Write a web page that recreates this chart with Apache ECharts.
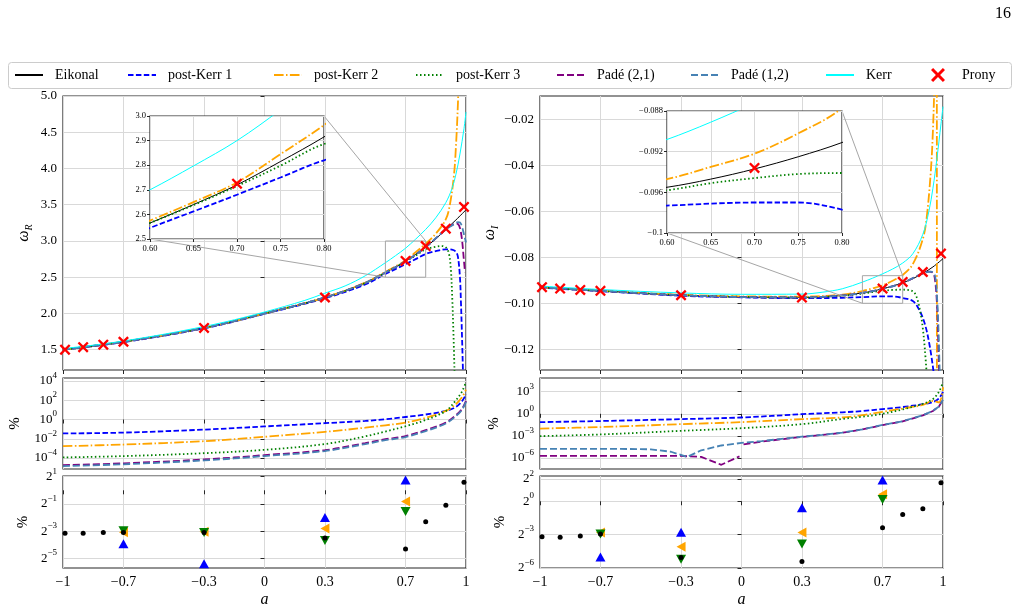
<!DOCTYPE html>
<html>
<head>
<meta charset="utf-8">
<script src="https://cdn.jsdelivr.net/npm/echarts@6/dist/echarts.min.js"></script>
<style>
  html, body { margin: 0; padding: 0; background: #fff; }
  #chart { width: 1020px; height: 612px; }
</style>
</head>
<body>
<div id="chart"></div>
<script>
// ---- data ----
// Prony fits (spin a), used in every panel
const pronyA = [-0.99, -0.9, -0.8, -0.7, -0.3, 0.3, 0.7, 0.8, 0.9, 0.99]
const pronyWR = [1.50, 1.535, 1.57, 1.61, 1.80, 2.22, 2.725, 2.93, 3.17, 3.47]
const pronyWI = [-0.0930, -0.0936, -0.0942, -0.0946, -0.0965, -0.0975, -0.0936, -0.0907, -0.0864, -0.0784]

// omega_R curves, [a, value]
const eikonalR = [[-1,1.50],[-0.9,1.535],[-0.8,1.57],[-0.7,1.61],[-0.6,1.655],[-0.5,1.70],[-0.4,1.75],[-0.3,1.80],[-0.2,1.86],[-0.1,1.93],[0,2.0],[0.1,2.07],[0.2,2.14],[0.3,2.22],[0.4,2.31],[0.5,2.42],[0.6,2.565],[0.65,2.64],[0.7,2.72],[0.75,2.815],[0.8,2.915],[0.85,3.03],[0.9,3.16],[0.95,3.29],[1.0,3.43]]
const pk1R = [[-1,1.50],[-0.7,1.605],[-0.3,1.795],[0,1.995],[0.3,2.21],[0.5,2.40],[0.6,2.545],[0.65,2.612],[0.7,2.68],[0.75,2.75],[0.8,2.82],[0.85,2.86],[0.9,2.885],[0.93,2.88],[0.95,2.85],[0.96,2.78],[0.97,2.5],[0.975,2.15],[0.98,1.7],[0.985,1.2]]
const pk2R = [[-1,1.50],[-0.7,1.61],[-0.3,1.80],[0,2.0],[0.3,2.22],[0.5,2.425],[0.6,2.575],[0.65,2.65],[0.7,2.73],[0.75,2.845],[0.8,2.963],[0.85,3.1],[0.9,3.3],[0.92,3.5],[0.94,3.9],[0.95,4.3],[0.96,4.9],[0.965,5.4]]
const pk3R = [[-1,1.50],[-0.7,1.61],[-0.3,1.80],[0,2.0],[0.3,2.22],[0.5,2.42],[0.6,2.565],[0.65,2.638],[0.7,2.715],[0.75,2.798],[0.8,2.886],[0.85,2.92],[0.88,2.93],[0.9,2.91],[0.915,2.83],[0.925,2.6],[0.932,2.2],[0.938,1.7],[0.943,1.2]]
const pade21R = [[-1,1.50],[-0.7,1.61],[-0.3,1.80],[0,2.0],[0.3,2.22],[0.5,2.42],[0.6,2.565],[0.7,2.72],[0.8,2.915],[0.9,3.16],[0.93,3.22],[0.95,3.24],[0.96,3.235],[0.97,3.18],[0.98,3.02],[0.99,2.72],[0.995,2.57]]
const pade12R = [[-1,1.50],[-0.7,1.61],[-0.3,1.80],[0,2.0],[0.3,2.22],[0.5,2.42],[0.6,2.565],[0.7,2.72],[0.8,2.915],[0.9,3.16],[0.94,3.23],[0.96,3.26],[0.97,3.255],[0.98,3.2],[0.99,3.09],[1.0,2.98]]
const kerrR = [[-1,1.515],[-0.8,1.58],[-0.6,1.665],[-0.4,1.765],[-0.2,1.88],[0,2.02],[0.2,2.18],[0.3,2.28],[0.4,2.38],[0.5,2.52],[0.6,2.70],[0.65,2.797],[0.7,2.90],[0.75,3.025],[0.8,3.16],[0.85,3.32],[0.9,3.53],[0.93,3.72],[0.95,3.92],[0.97,4.2],[0.99,4.55],[1.0,4.78]]

// omega_I curves, [a, value]
const eikonalI = [[-1,-0.0930],[-0.9,-0.0936],[-0.8,-0.0941],[-0.7,-0.0946],[-0.5,-0.0956],[-0.3,-0.0965],[-0.1,-0.0971],[0,-0.0973],[0.2,-0.0975],[0.3,-0.0975],[0.4,-0.0973],[0.5,-0.0966],[0.6,-0.0955],[0.65,-0.0947],[0.7,-0.0937],[0.75,-0.0925],[0.8,-0.0911],[0.85,-0.0893],[0.9,-0.0870],[0.95,-0.0842],[1.0,-0.0806]]
const pk1I = [[-1,-0.0932],[-0.7,-0.0947],[-0.3,-0.0967],[0,-0.0974],[0.3,-0.0978],[0.5,-0.0976],[0.6,-0.0973],[0.7,-0.0970],[0.75,-0.0970],[0.8,-0.0977],[0.85,-0.0990],[0.88,-0.1025],[0.91,-0.109],[0.935,-0.119],[0.955,-0.131]]
const pk2I = [[-1,-0.0930],[-0.7,-0.0945],[-0.3,-0.0963],[0,-0.0970],[0.3,-0.0971],[0.5,-0.0962],[0.6,-0.0947],[0.65,-0.0935],[0.7,-0.0922],[0.75,-0.0902],[0.8,-0.0877],[0.85,-0.0830],[0.9,-0.0720],[0.92,-0.062],[0.94,-0.042],[0.95,-0.025],[0.957,-0.005],[0.962,0.02],[0.968,0.2],[0.970,-0.5]]
const pk3I = [[-1,-0.0931],[-0.7,-0.0946],[-0.3,-0.0965],[0,-0.0972],[0.3,-0.0975],[0.5,-0.0967],[0.6,-0.0958],[0.65,-0.0951],[0.7,-0.0946],[0.75,-0.0942],[0.8,-0.0941],[0.85,-0.0948],[0.87,-0.0975],[0.89,-0.105],[0.9,-0.111],[0.91,-0.12],[0.92,-0.132]]
const pade21I = [[-1,-0.0930],[-0.7,-0.0946],[-0.3,-0.0965],[0,-0.0973],[0.3,-0.0975],[0.5,-0.0966],[0.6,-0.0955],[0.7,-0.0937],[0.8,-0.0911],[0.9,-0.0870],[0.93,-0.0862],[0.95,-0.0868],[0.96,-0.0895],[0.97,-0.100],[0.975,-0.112],[0.982,-0.135]]
const pade12I = [[-1,-0.0930],[-0.7,-0.0946],[-0.3,-0.0965],[0,-0.0973],[0.3,-0.0975],[0.5,-0.0966],[0.6,-0.0955],[0.7,-0.0937],[0.8,-0.0911],[0.9,-0.0870],[0.94,-0.0862],[0.96,-0.0880],[0.97,-0.097],[0.977,-0.11],[0.985,-0.135]]
const kerrI = [[-1,-0.0925],[-0.7,-0.0940],[-0.3,-0.0955],[0,-0.0961],[0.3,-0.0960],[0.4,-0.0952],[0.5,-0.0937],[0.6,-0.0908],[0.65,-0.0891],[0.7,-0.0872],[0.75,-0.0851],[0.8,-0.0825],[0.85,-0.0785],[0.9,-0.0700],[0.93,-0.0600],[0.95,-0.0500],[0.97,-0.0370],[0.99,-0.0220],[1.0,-0.0145]]

// relative errors in %, stored as log10 exponents
const errA = [-1, -0.7, -0.3, 0, 0.3, 0.5, 0.6, 0.7, 0.8, 0.9, 0.95, 0.98, 1.0]
const errR_pk1 = [-1.45, -1.36, -1.05, -0.72, -0.38, -0.15, 0.02, 0.26, 0.52, 0.89, 1.3, 1.9, 2.6]
const errR_pk2 = [-2.77, -2.6, -2.25, -1.8, -1.28, -0.85, -0.6, -0.32, 0.17, 0.89, 1.6, 2.3, 3.1]
const errR_pk3 = [-3.94, -3.8, -3.5, -3.15, -2.55, -1.75, -1.25, -0.7, -0.05, 0.89, 2.0, 2.9, 3.9]
const errR_pd21 = [-4.74, -4.55, -4.15, -3.7, -3.18, -2.45, -2.05, -1.72, -1.1, -0.31, 0.45, 1.1, 1.93]
const errR_pd12 = [-4.84, -4.65, -4.25, -3.8, -3.28, -2.55, -2.15, -1.82, -1.2, -0.41, 0.35, 1.0, 1.83]
const errI_pk1 = [-1.13, -0.98, -0.72, -0.5, -0.05, 0.2, 0.38, 0.65, 0.92, 1.3, 1.6, 2.1, 3.0]
const errI_pk2 = [-2.0, -1.8, -1.4, -1.13, -0.72, -0.5, -0.18, 0.27, 0.72, 1.2, 1.75, 1.55, 3.6]
const errI_pk3 = [-3.03, -2.8, -2.31, -1.95, -1.4, -0.7, -0.4, 0.0, 0.6, 1.35, 2.0, 3.0, 4.3]
const errI_pd21 = [[-1,-5.7],[-0.6,-5.7],[-0.3,-5.72],[-0.2,-5.85],[-0.1,-6.92],[-0.01,-5.77],[0,'-'],[0.01,-4.15],[0.1,-3.78],[0.2,-3.45],[0.3,-3.13],[0.4,-2.87],[0.5,-2.57],[0.6,-2.12],[0.7,-1.52],[0.8,-1.02],[0.9,-0.22],[0.95,0.38],[0.98,1.0],[1.0,1.95]]
const errI_pd12 = [[-1,-4.75],[-0.8,-4.75],[-0.6,-4.76],[-0.45,-4.82],[-0.35,-5.15],[-0.27,-5.85],[-0.2,-4.95],[-0.1,-4.3],[0,-3.95],[0.1,-3.7],[0.2,-3.4],[0.3,-3.1],[0.4,-2.85],[0.5,-2.55],[0.6,-2.1],[0.7,-1.5],[0.8,-1.0],[0.9,-0.2],[0.95,0.4],[0.98,1.0],[1.0,1.9]]

// errors at the fitted spins in %, stored as log2 exponents
const fitA = [-0.7, -0.3, 0.3, 0.7]
const fitR_pk1 = [-3.93, -5.4, -2.0, 0.76]
const fitR_pk2 = [-3.08, -3.05, -2.8, -0.83]
const fitR_pk3 = [-2.98, -3.1, -3.69, -1.56]
const fitR_prony = [-3.15, -3.15, -3.1, -3.1, -3.1, -3.51, -4.32, -2.32, -1.1, 0.59]
const fitI_pk1 = [-5.0, -2.79, -0.58, 1.91]
const fitI_pk2 = [-2.82, -4.09, -2.82, 0.64]
const fitI_pk3 = [-2.94, -5.21, -3.85, 0.15]
const fitI_prony = [-3.18, -3.24, -3.12, -2.94, -5.06, -5.42, -2.39, -1.18, -0.67, 1.67]

// tick positions
const xTicks = [-1, -0.7, -0.3, 0, 0.3, 0.7, 1]
const insetXTicks = [0.6, 0.65, 0.7, 0.75, 0.8]
const wrTicks = [1.5, 2, 2.5, 3, 3.5, 4, 4.5, 5]
const wiTicks = [-0.12, -0.1, -0.08, -0.06, -0.04, -0.02]
const errRTicks = [-4, -2, 0, 2, 4]
const errITicks = [-6, -3, 0, 3]
const fitRTicks = [-5, -3, -1, 1]
const fitITicks = [-6, -3, 0, 2]
const insetRTicks = [2.5, 2.6, 2.7, 2.8, 2.9, 3.0]
const insetITicks = [-0.1, -0.096, -0.092, -0.088]

// ---- styling ----
const FONT = '"Liberation Serif", "DejaVu Serif", serif'
const GRIDC = '#d9d9d9'
const SPINE = '#262626'
const STY = {
  'Eikonal': { color: '#000000', width: 1, type: 'solid' },
  'post-Kerr 1': { color: '#0000ff', width: 1.8, type: [5.5, 2.4] },
  'post-Kerr 2': { color: '#ffa500', width: 1.8, type: [9.6, 2.4, 1.5, 2.4] },
  'post-Kerr 3': { color: '#008000', width: 1.8, type: [1.5, 2.5] },
  'Padé (2,1)': { color: '#800080', width: 1.8, type: [7, 3] },
  'Padé (1,2)': { color: '#4682b4', width: 1.8, type: [7, 3] },
  'Kerr': { color: '#00ffff', width: 1, type: 'solid' }
}
const CROSS = 'path://M0,1.5L1.5,0L5,3.5L8.5,0L10,1.5L6.5,5L10,8.5L8.5,10L5,6.5L1.5,10L0,8.5L3.5,5Z'
const LEFT_TRI = 'path://M0,5L10,0L10,10Z'
const DOWN_TRI = 'path://M0,0L10,0L5,10Z'

const RICH = {
  b: { fontFamily: FONT, fontSize: 13, lineHeight: 20, color: '#000' },
  e: { fontFamily: FONT, fontSize: 9, verticalAlign: 'top', color: '#000' }
}
const NAME_RICH = {
  w: { fontFamily: FONT, fontSize: 16, fontStyle: 'italic', lineHeight: 20, color: '#000' },
  s: { fontFamily: FONT, fontSize: 10, fontStyle: 'italic', verticalAlign: 'bottom', color: '#000' }
}

const zip = (xs, ys) => xs.map((x, i) => [x, ys[i]])
const sign = v => (v < 0 ? '\u2212' : '')
const minus = v => sign(v) + Math.abs(v)
const fixed = d => v => sign(v) + Math.abs(v).toFixed(d)
const pow = base => v => '{b|' + base + '}{e|' + minus(v) + '}'

// ---- layout ----
const grids = [
  { left: 63, top: 96, width: 403, height: 274 },
  { left: 540, top: 96, width: 403, height: 274 },
  { left: 63, top: 378, width: 403, height: 91 },
  { left: 540, top: 378, width: 403, height: 91 },
  { left: 63, top: 476, width: 403, height: 92 },
  { left: 540, top: 476, width: 403, height: 92 },
  { left: 150, top: 116, width: 174, height: 123 },
  { left: 667, top: 111, width: 175, height: 122 }
].map((g, i) => Object.assign({
  show: true, borderColor: SPINE, borderWidth: 1.2,
  backgroundColor: i >= 6 ? '#ffffff' : 'transparent',
  z: i >= 6 ? 10 : 0, outerBoundsMode: 'none', containLabel: false
}, g))

function xAx(gi, extra) {
  const inset = gi >= 6
  const ticks = inset ? insetXTicks : xTicks
  return Object.assign({
    type: 'value', gridIndex: gi,
    min: inset ? 0.6 : -1, max: inset ? 0.8 : 1,
    z: inset ? 11 : 0,
    axisLine: { show: false },
    axisTick: { show: true, length: inset ? 3 : 4, customValues: ticks, lineStyle: { color: SPINE } },
    axisLabel: { show: false, customValues: ticks },
    splitLine: { show: true, lineStyle: { color: GRIDC, width: 1 } }
  }, extra)
}
function yAx(gi, min, max, ticks, fmt, extra) {
  const inset = gi >= 6
  return Object.assign({
    type: 'value', gridIndex: gi, min, max,
    z: inset ? 11 : 0,
    axisLine: { show: false },
    axisTick: { show: true, length: inset ? 3 : 4, customValues: ticks, lineStyle: { color: SPINE } },
    axisLabel: {
      customValues: ticks, formatter: fmt, margin: inset ? 4 : 6,
      fontFamily: FONT, fontSize: inset ? 8.5 : 13, color: '#000', rich: RICH
    },
    splitLine: { show: true, lineStyle: { color: GRIDC, width: 1 } },
    nameLocation: 'middle', nameRotate: 90,
    nameTextStyle: { fontFamily: FONT, fontSize: 15, color: '#000', rich: NAME_RICH }
  }, extra)
}

const bottomX = {
  axisLabel: {
    show: true, customValues: xTicks, formatter: minus, margin: 7,
    fontFamily: FONT, fontSize: 14, color: '#000'
  },
  name: 'a', nameLocation: 'middle', nameGap: 24,
  nameTextStyle: { fontFamily: FONT, fontSize: 16, fontStyle: 'italic', color: '#000' }
}
const insetX = {
  axisLabel: {
    show: true, customValues: insetXTicks, formatter: v => v.toFixed(2), margin: 5,
    fontFamily: FONT, fontSize: 8.5, color: '#000'
  }
}

const xAxes = [xAx(0), xAx(1), xAx(2), xAx(3), xAx(4, bottomX), xAx(5, bottomX), xAx(6, insetX), xAx(7, insetX)]
const yAxes = [
  yAx(0, 1.22, 5.0, wrTicks, fixed(1), { name: '{w|ω}{s|R}', nameGap: 29 }),
  yAx(1, -0.129, -0.0099, wiTicks, fixed(2), { name: '{w|ω}{s|I}', nameGap: 38 }),
  yAx(2, -5.14, 4.31, errRTicks, pow(10), { name: '%', nameGap: 40 }),
  yAx(3, -7.49, 4.86, errITicks, pow(10), { name: '%', nameGap: 38 }),
  yAx(4, -5.71, 1.05, fitRTicks, pow(2), { name: '%', nameGap: 32 }),
  yAx(5, -6, 2.27, fitITicks, pow(2), { name: '%', nameGap: 32 }),
  yAx(6, 2.5, 3.0, insetRTicks, fixed(1)),
  yAx(7, -0.1, -0.088, insetITicks, v => (v === -0.1 ? '\u22120.1' : fixed(3)(v)))
]

// ---- series ----
const series = []
function addLine(name, data, gi, extra) {
  const s = STY[name]
  series.push(Object.assign({
    type: 'line', name, data, xAxisIndex: gi, yAxisIndex: gi,
    symbol: 'none', showSymbol: false, smooth: 0.35, clip: true,
    lineStyle: { color: s.color, width: s.width, type: s.type, cap: 'butt' },
    itemStyle: { color: s.color },
    silent: true, z: gi >= 6 ? 12 : 2
  }, extra))
}
function addScatter(name, data, gi, symbol, size, color, z) {
  series.push({
    type: 'scatter', name, data, xAxisIndex: gi, yAxisIndex: gi,
    symbol, symbolSize: size, itemStyle: { color, opacity: 1 },
    silent: true, z: z
  })
}

// main panels
const curvesR = [['Eikonal', eikonalR], ['post-Kerr 1', pk1R], ['post-Kerr 2', pk2R], ['post-Kerr 3', pk3R],
  ['Padé (2,1)', pade21R], ['Padé (1,2)', pade12R], ['Kerr', kerrR]]
const curvesI = [['Eikonal', eikonalI], ['post-Kerr 1', pk1I], ['post-Kerr 2', pk2I], ['post-Kerr 3', pk3I],
  ['Padé (2,1)', pade21I], ['Padé (1,2)', pade12I], ['Kerr', kerrI]]
curvesR.forEach(([n, d]) => addLine(n, d, 0))
curvesI.forEach(([n, d]) => addLine(n, d, 1))
// insets: the Padé curves are not drawn there
curvesR.filter(([n]) => n.indexOf('Padé') < 0).forEach(([n, d]) => addLine(n, d, 6))
curvesI.filter(([n]) => n.indexOf('Padé') < 0).forEach(([n, d]) => addLine(n, d, 7))
addScatter('Prony', zip(pronyA, pronyWR), 0, CROSS, 11, '#ff0000', 4)
addScatter('Prony', zip(pronyA, pronyWI), 1, CROSS, 11, '#ff0000', 4)
const inInset = p => p[0] > 0.6 && p[0] < 0.8
addScatter('Prony', zip(pronyA, pronyWR).filter(inInset), 6, CROSS, 11, '#ff0000', 13)
addScatter('Prony', zip(pronyA, pronyWI).filter(inInset), 7, CROSS, 11, '#ff0000', 13)

// error panels
addLine('post-Kerr 1', zip(errA, errR_pk1), 2)
addLine('post-Kerr 2', zip(errA, errR_pk2), 2)
addLine('post-Kerr 3', zip(errA, errR_pk3), 2)
addLine('Padé (2,1)', zip(errA, errR_pd21), 2)
addLine('Padé (1,2)', zip(errA, errR_pd12), 2)
addLine('post-Kerr 1', zip(errA, errI_pk1), 3)
addLine('post-Kerr 2', zip(errA, errI_pk2), 3)
addLine('post-Kerr 3', zip(errA, errI_pk3), 3)
addLine('Padé (2,1)', errI_pd21, 3, { smooth: false })
addLine('Padé (1,2)', errI_pd12, 3, { smooth: false })

// errors at the fitted spins
addScatter('fit pk1 R', zip(fitA, fitR_pk1), 4, 'triangle', [10, 9], '#0000ff', 3)
addScatter('fit pk2 R', zip(fitA, fitR_pk2), 4, LEFT_TRI, [9, 10], '#ffa500', 3)
addScatter('fit pk3 R', zip(fitA, fitR_pk3), 4, DOWN_TRI, [10, 9], '#008000', 3)
addScatter('fit prony R', zip(pronyA, fitR_prony), 4, 'circle', 5, '#000000', 4)
addScatter('fit pk1 I', zip(fitA, fitI_pk1), 5, 'triangle', [10, 9], '#0000ff', 3)
addScatter('fit pk2 I', zip(fitA, fitI_pk2), 5, LEFT_TRI, [9, 10], '#ffa500', 3)
addScatter('fit pk3 I', zip(fitA, fitI_pk3), 5, DOWN_TRI, [10, 9], '#008000', 3)
addScatter('fit prony I', zip(pronyA, fitI_prony), 5, 'circle', 5, '#000000', 4)

// one legend per entry so the row spreads like the original
const legendSpots = [['Eikonal', 14], ['post-Kerr 1', 127], ['post-Kerr 2', 273], ['post-Kerr 3', 415],
  ['Padé (2,1)', 556], ['Padé (1,2)', 690], ['Kerr', 825], ['Prony', 931]]
const legends = legendSpots.map(([n, x]) => {
  const isLine = n !== 'Prony'
  return {
    data: [n], left: x, top: 68, padding: 0, orient: 'horizontal',
    itemWidth: isLine ? 28 : 14, itemHeight: 14, selectedMode: false,
    itemStyle: isLine ? { opacity: 0 } : {},
    textStyle: { fontFamily: FONT, fontSize: 14, color: '#000', padding: [0, 0, 0, isLine ? 7 : 12] }
  }
})

const chart = echarts.init(document.getElementById('chart'), null, { renderer: 'canvas' })
chart.setOption({
  animation: false,
  backgroundColor: '#ffffff',
  textStyle: { fontFamily: FONT },
  grid: grids,
  xAxis: xAxes,
  yAxis: yAxes,
  legend: legends,
  series: series
})

// zoom boxes and connectors, placed with the chart's own coordinate conversion
function zoomMarks(gMain, gIn, x0, x1, y0, y1) {
  const a = chart.convertToPixel({ gridIndex: gMain }, [x0, y0])
  const b = chart.convertToPixel({ gridIndex: gMain }, [x1, y1])
  const ia = chart.convertToPixel({ gridIndex: gIn }, [x0, y0])
  const ib = chart.convertToPixel({ gridIndex: gIn }, [x1, y1])
  const st = { stroke: '#a6a6a6', lineWidth: 1, fill: null }
  return [
    { type: 'rect', z: 3, shape: { x: a[0], y: b[1], width: b[0] - a[0], height: a[1] - b[1] }, style: st },
    { type: 'line', z: 3, shape: { x1: ia[0], y1: ia[1], x2: a[0], y2: a[1] }, style: st },
    { type: 'line', z: 3, shape: { x1: ib[0], y1: ib[1], x2: b[0], y2: b[1] }, style: st }
  ]
}

chart.setOption({
  graphic: [
    { type: 'rect', z: -1, shape: { x: 8.5, y: 62.5, width: 1003, height: 26, r: 3 },
      style: { fill: '#ffffff', stroke: '#cccccc', lineWidth: 1 } },
    { type: 'text', left: 995, top: 6, style: { text: '16', fontFamily: FONT, fontSize: 16, fill: '#000' } }
  ].concat(zoomMarks(0, 6, 0.6, 0.8, 2.5, 3.0), zoomMarks(1, 7, 0.6, 0.8, -0.1, -0.088))
})
</script>
</body>
</html>
